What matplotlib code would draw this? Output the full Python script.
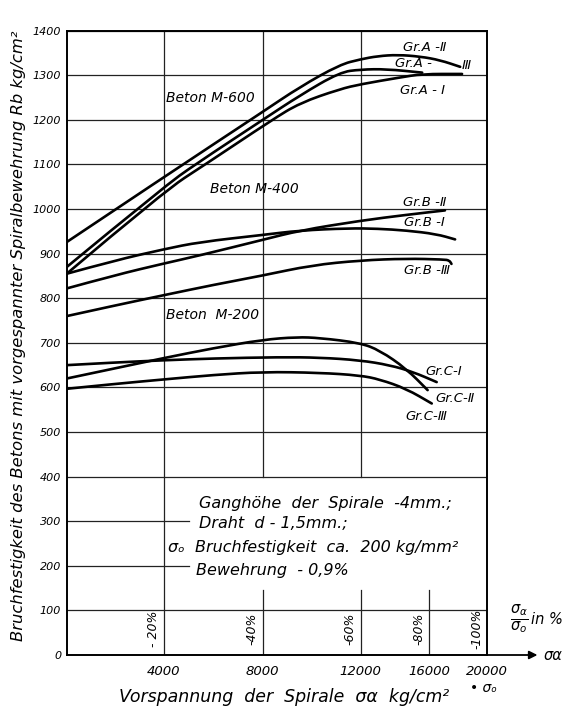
import numpy as np
import matplotlib
matplotlib.use("Agg")
import matplotlib.pyplot as plt
import matplotlib.transforms as mtransforms
from matplotlib.path import Path
from matplotlib.patches import PathPatch

plt.rcParams['font.family'] = ['DejaVu Sans']
plt.rcParams['font.style'] = 'italic'
plt.rcParams['mathtext.fontset'] = 'dejavusans'

# ---------------- data (kg/cm^2) ----------------
a2_x = [0, 4000, 8000, 9520, 11150, 12000, 13000, 14160, 15500, 16760, 18150]
a2_y = [926, 1072, 1218, 1274, 1324, 1336, 1343, 1346, 1342, 1334, 1319]
a3_x = [0, 4000, 5260, 8000, 9520, 11150, 12000, 13500, 15600]
a3_y = [870, 1050, 1100, 1200, 1255, 1307, 1313, 1314, 1306]
a1_x = [0, 4000, 5670, 8380, 9520, 11150, 12000, 14280, 15600, 18280]
a1_y = [855, 1040, 1100, 1200, 1238, 1269, 1280, 1295, 1303, 1303]

b2_x = [0, 2000, 4000, 5440, 8000, 9520, 12000, 14667, 17100]
b2_y = [822, 852, 878, 896, 931, 952, 974, 987, 997]
b1_x = [0, 2000, 4000, 5440, 8000, 9520, 11500, 13000, 14667, 16500, 17800]
b1_y = [855, 885, 910, 926, 942, 952, 957, 956, 952, 944, 932]
b3_x = [0, 2000, 4000, 6000, 8000, 10000, 12000, 14667, 17000, 17400, 17550]
b3_y = [760, 784, 807, 830, 851, 874, 885, 889, 887, 885, 877]

c1_x = [0, 2000, 4000, 6000, 8700, 10330, 11970, 13700, 15050, 16530]
c1_y = [650, 656, 661, 665, 668, 667, 661, 650, 635, 612]
c2_x = [0, 2000, 4000, 6000, 8000, 9400, 10330, 11970, 13120, 14670, 15920]
c2_y = [620, 643, 666, 688, 707, 713, 711, 700, 683, 642, 594]
c3_x = [0, 2000, 4000, 6000, 8000, 10330, 11970, 13120, 14670, 16190]
c3_y = [597, 608, 618, 628, 635, 633, 627, 618, 597, 564]

x_ticks = [4000, 8000, 12000, 16000, 20000]
x_tick_labels = ['4000', '8000', '12000', '16000', '20000']
y_ticks = list(range(0, 1401, 100))
pct_pos = [4000, 8000, 12000, 16000, 20000]
pct_labels = ['- 20%', '-40%', '-60%', '-80%', '-100%']

# non-uniform horizontal scale of the original drawing
X_ANCH = [0, 4000, 8000, 12000, 16000, 20000]
X_POS = [0, 97.3, 196, 294, 362.3, 420.3]
def fwd(x):
    return np.interp(x, X_ANCH, X_POS)
def inv(p):
    return np.interp(p, X_POS, X_ANCH)

fig = plt.figure(figsize=(5.76, 7.07), dpi=100)
L, R, T, B = 66.7, 487, 30.7, 655
ax = fig.add_axes([L/576, (707-B)/707, (R-L)/576, (B-T)/707])
ax.set_xscale('function', functions=(fwd, inv))
ax.set_xlim(0, 20000)
ax.set_ylim(0, 1400)

for s in ax.spines.values():
    s.set_linewidth(1.4)
    s.set_color('black')

# grid
gkw = dict(color='#222222', lw=0.9, zorder=1)
for yv in y_ticks[1:]:
    if yv in (200, 300):
        ax.plot([0, 5000], [yv, yv], **gkw)
    else:
        ax.plot([0, 20000], [yv, yv], **gkw)
ax.plot([4000, 4000], [0, 1400], **gkw)
for xv in (8000, 12000):
    ax.plot([xv, xv], [400, 1400], **gkw)
    ax.plot([xv, xv], [0, 145], **gkw)
ax.plot([16000, 16000], [0, 145], **gkw)

# curves: smooth quadratic path through the read points
def smooth_curve(xs, ys):
    xs = np.asarray(xs, float); ys = np.asarray(ys, float)
    fx = fwd(xs)
    verts = [(xs[0], ys[0])]
    codes = [Path.MOVETO]
    for i in range(1, len(xs) - 1):
        mx = float(inv((fx[i] + fx[i + 1]) / 2.0))
        my = (ys[i] + ys[i + 1]) / 2.0
        verts += [(xs[i], ys[i]), (mx, my)]
        codes += [Path.CURVE3, Path.CURVE3]
    verts.append((xs[-1], ys[-1]))
    codes.append(Path.LINETO)
    return Path(verts, codes)

for xs, ys in [(a2_x, a2_y), (a3_x, a3_y), (a1_x, a1_y),
               (b2_x, b2_y), (b1_x, b1_y), (b3_x, b3_y),
               (c1_x, c1_y), (c2_x, c2_y), (c3_x, c3_y)]:
    ax.add_patch(PathPatch(smooth_curve(xs, ys), fill=False, edgecolor='black',
                           lw=1.9, capstyle='round', joinstyle='round',
                           transform=ax.transData, zorder=3))

# ticks
ax.set_xticks(x_ticks)
ax.set_xticklabels(x_tick_labels, fontsize=9.5, style='italic')
ax.set_yticks(y_ticks)
ax.set_yticklabels([str(v) for v in y_ticks], fontsize=8, style='italic')
ax.tick_params(length=0, pad=4)
ax.tick_params(axis='x', pad=7)

# series labels
tk = dict(fontsize=10, style='italic', zorder=5)
ax.text(4100, 1250, 'Beton M-600', va='center', **tk)
ax.text(5880, 1046, 'Beton M-400', va='center', **tk)
ax.text(4100, 762, 'Beton  M-200', va='center', **tk)
gk = dict(fontsize=9.5, style='italic', va='center', zorder=5)
ax.text(14450, 1363, 'Gr.A -Ⅱ', **gk)
ax.text(14000, 1327, 'Gr.A -', **gk)
ax.text(18250, 1323, 'Ⅲ', **gk)
ax.text(14300, 1267, 'Gr.A - Ⅰ', **gk)
ax.text(14450, 1015, 'Gr.B -Ⅱ', **gk)
ax.text(14550, 969, 'Gr.B -Ⅰ', **gk)
ax.text(14550, 862, 'Gr.B -Ⅲ', **gk)
ax.text(15800, 635, 'Gr.C-Ⅰ', **gk)
ax.text(16450, 575, 'Gr.C-Ⅱ', **gk)
ax.text(14600, 535, 'Gr.C-Ⅲ', **gk)

# note block
nk = dict(fontsize=11.5, style='italic', va='center', zorder=5)
ax.text(5400, 340, 'Ganghöhe  der  Spirale  -4mm.;', **nk)
ax.text(5400, 296, 'Draht  d - 1,5mm.;', **nk)
ax.text(4150, 240, 'σₒ  Bruchfestigkeit  ca.  200 kg/mm²', **nk)
ax.text(5300, 190, 'Bewehrung  - 0,9%', **nk)

# percentage marks
for xv, lab in zip(pct_pos, pct_labels):
    ax.annotate(lab, xy=(xv, 58), xytext=(-4, 0), textcoords='offset pixels',
                rotation=90, ha='right', va='center', fontsize=9, style='italic')

trans = mtransforms.blended_transform_factory(ax.transAxes, ax.transData)
ax.text(1.055, 80, r'$\frac{\sigma_\alpha}{\sigma_o}$', transform=trans,
        fontsize=15, va='center', ha='left')
ax.text(1.105, 80, 'in %', transform=trans, fontsize=10.5, va='center', ha='left')
ax.annotate('', xy=(1.12, 0), xytext=(1.0, 0), xycoords=trans, textcoords=trans,
            arrowprops=dict(arrowstyle='-|>', color='black', lw=1.3,
                            mutation_scale=12, shrinkA=0, shrinkB=0))
ax.text(1.135, 0, 'σα', transform=trans, fontsize=10.5, va='center', ha='left')
ax.annotate('• σₒ', xy=(20000, 0), xytext=(-3, -33), textcoords='offset pixels',
            ha='center', va='center', fontsize=10, style='italic')

fig.text(284/576, 1-697/707, 'Vorspannung  der  Spirale  σα  kg/cm²',
         ha='center', va='center', fontsize=12.5, style='italic')
fig.text(19/576, 1-336/707,
         'Bruchfestigkeit des Betons mit vorgespannter Spiralbewehrung Rb kg/cm²',
         ha='center', va='center', rotation=90, fontsize=11.8, style='italic')

fig.savefig('out.png', dpi=100, facecolor='white')
